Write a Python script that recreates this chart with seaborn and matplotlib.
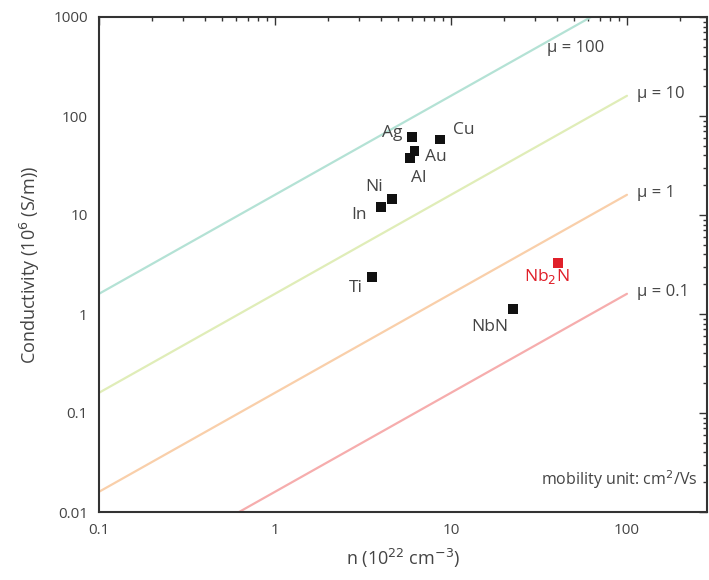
import matplotlib
matplotlib.use("Agg")
import matplotlib.pyplot as plt
import seaborn as sns
import pandas as pd
import numpy as np
from matplotlib.ticker import LogLocator, FixedLocator, FixedFormatter, NullFormatter

# --- data ---
materials = ["Ag", "Cu", "Au", "Al", "Ni", "In", "Ti", "NbN", "Nb$_2$N"]
carrier_n = [6.0, 8.7, 6.2, 5.85, 4.6, 4.0, 3.55, 22.5, 40.5]       # 10^22 cm^-3
conductivity = [61, 58, 44, 37.5, 14.5, 12.0, 2.37, 1.12, 3.27]   # 10^6 S/m
point_colors = ["#111111"] * 8 + ["#e0202a"]

mobility_labels = ["μ = 100", "μ = 10", "μ = 1", "μ = 0.1"]
line_n = [0.1, 100]
line_sigma_mu100 = [1.6, 1600]
line_sigma_mu10 = [0.16, 160]
line_sigma_mu1 = [0.016, 16]
line_sigma_mu01 = [0.0016, 1.6]
line_colors = ["#b4e2d5", "#e0edb8", "#f9cfaa", "#f6adad"]

x_ticks = [0.1, 1, 10, 100]
x_tick_labels = ["0.1", "1", "10", "100"]
y_ticks = [0.01, 0.1, 1, 10, 100, 1000]
y_tick_labels = ["0.01", "0.1", "1", "10", "100", "1000"]

sns.set_theme(style="white")
plt.rcParams["font.family"] = ["Open Sans", "DejaVu Sans"]
text_gray = "#444444"

fig = plt.figure(figsize=(7.09, 5.8), dpi=100)
ax = fig.add_axes([99 / 709, 68 / 580, 608 / 709, 495 / 580])

line_sets = [line_sigma_mu100, line_sigma_mu10, line_sigma_mu1, line_sigma_mu01]
for sig, col in zip(line_sets, line_colors):
    sns.lineplot(x=line_n, y=sig, ax=ax, color=col, lw=1.6, legend=False)

df = pd.DataFrame({"n": carrier_n, "sigma": conductivity, "mat": materials})
sns.scatterplot(data=df, x="n", y="sigma", hue="mat", palette=point_colors,
                marker="s", s=50, edgecolor="none", legend=False, ax=ax, zorder=5)

ax.set_xscale("log")
ax.set_yscale("log")
ax.set_xlim(0.1, 285)
ax.set_ylim(0.01, 1000)

# point labels
offsets = {
    "Ag": (-10, 4, "right"),
    "Cu": (13, 9, "left"),
    "Au": (11, -6, "left"),
    "Al": (9, -20, "center"),
    "Ni": (-9, 12, "right"),
    "In": (-14, -8, "right"),
    "Ti": (-9, -11, "right"),
    "NbN": (-5, -18, "right"),
    "Nb$_2$N": (-11, -13, "center"),
}
for m, xv, yv, c in zip(materials, carrier_n, conductivity, point_colors):
    dx, dy, ha = offsets[m]
    ax.annotate(m, (xv, yv), xytext=(dx, dy), textcoords="offset pixels",
                ha=ha, va="center", fontsize=12.5, color=c if c != "#111111" else text_gray)

# mobility labels
for i, (lab, sig) in enumerate(zip(mobility_labels, line_sets)):
    if i == 0:
        ax.annotate(lab, (60, 740), xytext=(-12, -18), textcoords="offset pixels",
                    ha="center", va="center", fontsize=12, color=text_gray)
    else:
        ax.annotate(lab, (line_n[1], sig[1]), xytext=(10, 2), textcoords="offset pixels",
                    ha="left", va="center", fontsize=12, color=text_gray)

ax.text(0.985, 0.065, "mobility unit: cm$^2$/Vs", transform=ax.transAxes,
        ha="right", va="center", fontsize=11.5, color=text_gray)

ax.xaxis.set_major_locator(FixedLocator(x_ticks))
ax.xaxis.set_major_formatter(FixedFormatter(x_tick_labels))
ax.yaxis.set_major_locator(FixedLocator(y_ticks))
ax.yaxis.set_major_formatter(FixedFormatter(y_tick_labels))
ax.xaxis.set_minor_locator(LogLocator(base=10, subs=np.arange(2, 10), numticks=20))
ax.yaxis.set_minor_locator(LogLocator(base=10, subs=np.arange(2, 10), numticks=20))
ax.xaxis.set_minor_formatter(NullFormatter())
ax.yaxis.set_minor_formatter(NullFormatter())

ax.tick_params(which="both", direction="in", top=True, right=True, color="#333333", width=1)
ax.tick_params(which="major", length=6, labelsize=11, labelcolor=text_gray, pad=8)
ax.tick_params(which="minor", length=3)
for sp in ax.spines.values():
    sp.set_color("#333333")
    sp.set_linewidth(1.5)

ax.set_xlabel("n (10$^{22}$ cm$^{-3}$)", fontsize=13, color=text_gray, labelpad=6)
ax.set_ylabel("Conductivity (10$^6$ (S/m))", fontsize=13, color=text_gray, labelpad=8)

fig.savefig("out.png", dpi=100)
